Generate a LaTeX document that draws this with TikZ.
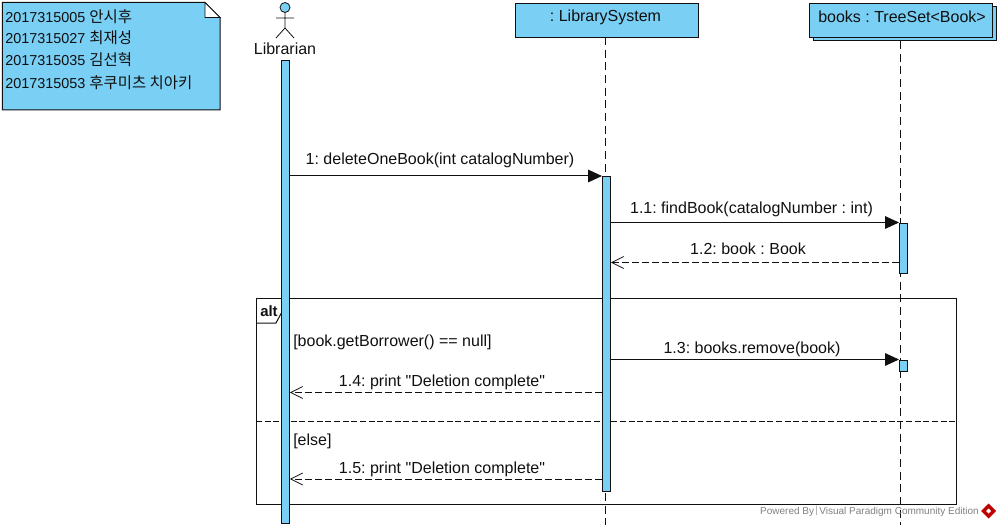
\documentclass[tikz,border=0pt]{standalone}
\usepackage{fontspec}
\setmainfont{Liberation Sans}
\newfontfamily\rawf{Liberation Sans}
\newfontfamily\kor{Noto Sans CJK KR}
\usetikzlibrary{arrows.meta,calc}
\definecolor{vpblue}{HTML}{7ACFF5}
\definecolor{ln}{HTML}{101010}
\frenchspacing
\tikzset{
  x=0.75pt,y=-0.75pt,
  txt/.style={inner sep=0pt,font=\fontsize{12pt}{13pt}\selectfont\frenchspacing,text=ln},
  notetxt/.style={inner sep=0pt,anchor=west,font=\fontsize{10.8pt}{13pt}\selectfont\frenchspacing,text=ln},
  objbox/.style={draw=ln,fill=vpblue,line width=0.75pt,anchor=north west,inner sep=0pt},
  actbar/.style={draw=ln,fill=vpblue,line width=0.6pt,anchor=north west,inner sep=0pt,minimum width=6pt},
  lifeline/.style={draw=ln,line width=0.75pt,dash pattern=on 6pt off 3.5pt},
  callmsg/.style={draw=ln,line width=0.75pt,-{Triangle[length=10.5pt,width=9.5pt,fill=ln]}},
  retmsg/.style={draw=ln,line width=0.6pt,dash pattern=on 5pt off 2.5pt,-{Straight Barb[length=9pt,width=9pt,line width=0.6pt]}},
}
\begin{document}
\begin{tikzpicture}
\useasboundingbox (0,0) rectangle (1001,528);
% note
\draw[draw=ln,fill=vpblue,line width=0.75pt] (2.3,2.5) -- (205,2.5) -- (220,17.5) -- (220,110) -- (2.3,110) -- cycle;
\draw[draw=ln,fill=white,line width=0.6pt] (205,2.5) -- (205,17.5) -- (220,17.5) -- cycle;
\node[notetxt] (n1) at (5,17) {2017315005 {\fontsize{11.6pt}{13pt}\selectfont\kor 안시후}};
\node[notetxt] (n2) at (5,38) {2017315027 {\fontsize{11.6pt}{13pt}\selectfont\kor 최재성}};
\node[notetxt] (n3) at (5,60) {2017315035 {\fontsize{11.6pt}{13pt}\selectfont\kor 김선혁}};
\node[notetxt] (n4) at (5,83) {2017315053 {\fontsize{11.6pt}{13pt}\selectfont\kor 후쿠미츠 치아키}};
% actor
\draw[draw=ln,fill=vpblue,line width=0.6pt] (285,7.5) circle (5);
\draw[draw=ln,line width=0.6pt] (285,12.5) -- (285,28) (276,18) -- (294,18) (276,38) -- (285,28) -- (294,38);
\node[txt] (libr) at (285,49) {Librarian};
% objects
\path[objbox] (813,7) rectangle (996.5,41);
\node[objbox,minimum width=137.25pt,minimum height=25.5pt] (ls) at (514.5,3) {};
\node[txt] (lsl) at (605.5,17) {: LibrarySystem};
\node[objbox,minimum width=137.4pt,minimum height=25.5pt] (bk) at (809.2,3) {};
\node[txt] (bkl) at (902,17) {books : TreeSet<Book>};
\coordinate (lsend) at (605.5,525);
\coordinate (bkend) at (900,525);
\draw[lifeline] (605.5,37) -- (lsend);
\draw[lifeline] (900,41) -- (bkend);
% frame
\draw[draw=ln,line width=0.75pt] (256,298) rectangle (956,504);
\draw[draw=ln,line width=0.75pt] (256,323) -- (276,323) -- (283,310) -- (283,298);
\draw[draw=ln,line width=0.6pt,dash pattern=on 4.5pt off 2pt] (256,421) -- (956,421);
\node[txt,font=\fontsize{11.2pt}{13pt}\selectfont\bfseries] (alt) at (269,311) {alt};
\node[txt,anchor=west] (g1) at (293,342) {[book.getBorrower() == null]};
\node[txt,anchor=west] (g2) at (293,441) {[else]};
% activations
\node[actbar,minimum height=346.9pt] (a0) at (281,60.5) {};
\node[actbar,minimum height=235.8pt] (a1) at (602,176.5) {};
\node[actbar,minimum height=37.8pt] (a2) at (899,222.5) {};
\node[actbar,minimum height=8.8pt] (a3) at (899,359.5) {};
% messages
\draw[callmsg] (a0.east |- 0,176) -- (a1.west |- 0,176);
\node[txt] (m1) at (440,160) {1: deleteOneBook(int catalogNumber)};
\draw[callmsg] (a1.east |- a2.north) -- (a2.north west);
\node[txt] (m2) at (751.5,209) {1.1: findBook(catalogNumber : int)};
\draw[retmsg] (a2.west |- 0,262.5) -- (a1.east |- 0,262.5);
\node[txt] (m3) at (748,248.5) {1.2: book : Book};
\draw[callmsg] (a1.east |- a3.north) -- (a3.north west);
\node[txt] (m4) at (752,349) {1.3: books.remove(book)};
\draw[retmsg] (a1.west |- 0,392.5) -- (a0.east |- 0,392.5);
\node[txt] (m5) at (442,382) {\rawf 1.4: print "Deletion complete"};
\draw[retmsg] (a1.west |- 0,479) -- (a0.east |- 0,479);
\node[txt] (m6) at (442,469) {\rawf 1.5: print "Deletion complete"};
% footer
\node[inner sep=0pt,anchor=east,text=black!50,font=\fontsize{7.5pt}{8pt}\selectfont] (pw) at (979,511.5) {Powered By\raisebox{1pt}{\textcolor{black!35}{\kern1pt|\kern1pt}}Visual Paradigm Community Edition};
\fill[red!75!black] (988.5,503.5) -- (996,511) -- (988.5,518.5) -- (981,511) -- cycle;
\fill[white] (988.5,508.5) -- (991,511) -- (988.5,513.5) -- (986,511) -- cycle;
\end{tikzpicture}
\end{document}
